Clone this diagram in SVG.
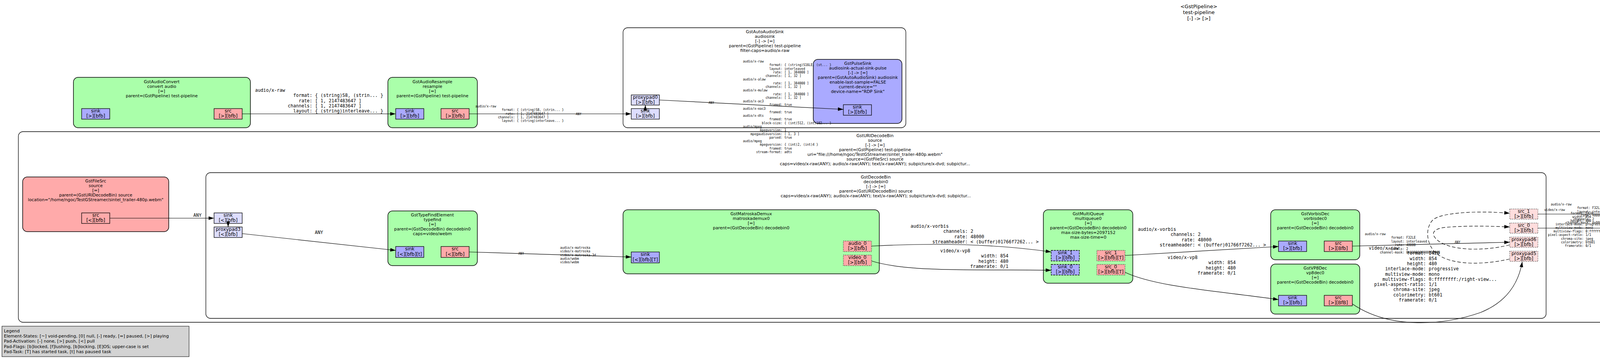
<svg xmlns="http://www.w3.org/2000/svg" width="6139" height="919" viewBox="0 0 6139 919">
<defs>
<marker id="ah" markerWidth="14" markerHeight="10" refX="14" refY="5" orient="auto" markerUnits="userSpaceOnUse"><path d="M0,0.4 L14,5 L0,9.6 z" fill="#000"/></marker>
<style>
.bin{fill:#fff;stroke:#000;stroke-width:1.3}
.el{stroke:#000;stroke-width:1.5}
.f{fill:#aaffaa}.s{fill:#ffaaaa}.k{fill:#aaaaff}
.ps{fill:#ffaaaa;stroke:#000;stroke-width:1.3}
.pk{fill:#aaaaff;stroke:#000;stroke-width:1.3}
.gs{fill:#ffdddd;stroke:#000;stroke-width:1.3}
.gk{fill:#ddddff;stroke:#000;stroke-width:1.3}
.dot{stroke-dasharray:1.5,3}
.dsh{stroke-dasharray:5,2}
.t{font-family:"DejaVu Sans","Liberation Sans",sans-serif;font-size:10.8px;text-anchor:middle;fill:#000}
.ti{font-family:"DejaVu Sans","Liberation Sans",sans-serif;font-size:13px;text-anchor:middle;fill:#000}
.p{font-family:"DejaVu Sans","Liberation Sans",sans-serif;font-size:12px;text-anchor:middle;fill:#000}
.lg{font-family:"DejaVu Sans","Liberation Sans",sans-serif;font-size:11px;fill:#000}
.m{font-family:"DejaVu Sans Mono","Liberation Mono",monospace;font-size:11.6px;fill:#000;white-space:pre}
.sm{font-family:"DejaVu Sans Mono","Liberation Mono",monospace;font-size:8px;fill:#000;white-space:pre}
.c{fill:none;stroke:#000;stroke-width:1.2;marker-end:url(#ah)}
.d{stroke-dasharray:9,5}
</style>
</defs>
<rect width="6139" height="919" fill="#fff"/>
<g id="pipeline-title">
<text class="ti" x="3069" y="20.5">&lt;GstPipeline&gt;</text>
<text class="ti" x="3069" y="36">test-pipeline</text>
<text class="ti" x="3069" y="51.5">[-] -&gt; [&gt;]</text>
</g>

<g id="legend">
<rect x="5" y="835" width="479" height="78" fill="#d3d3d3" stroke="#000" stroke-width="1"/>
<text class="lg" x="10" y="851">Legend</text>
<text class="lg" x="10" y="864">Element-States: [~] void-pending, [0] null, [-] ready, [=] paused, [&gt;] playing</text>
<text class="lg" x="10" y="877">Pad-Activation: [-] none, [&gt;] push, [&lt;] pull</text>
<text class="lg" x="10" y="891">Pad-Flags: [b]locked, [f]lushing, [b]locking, [E]OS; upper-case is set</text>
<text class="lg" x="10" y="904">Pad-Task: [T] has started task, [t] has paused task</text>
</g>

<g id="autoaudiosink">
<rect class="bin" x="1595" y="71" width="724" height="256" rx="12"/>
<text class="t" x="1958" y="85">GstAutoAudioSink</text>
<text class="t" x="1958" y="97">audiosink</text>
<text class="t" x="1958" y="109">[-] -&gt; [=]</text>
<text class="t" x="1958" y="121">parent=(GstPipeline) test-pipeline</text>
<text class="t" x="1958" y="133">filter-caps=audio/x-raw</text>
</g>
<g id="uridecodebin">
<rect class="bin" x="47" y="337" width="4388" height="488" rx="12"/>
<text class="t" x="2240" y="351">GstURIDecodeBin</text>
<text class="t" x="2240" y="363">source</text>
<text class="t" x="2240" y="375">[-] -&gt; [=]</text>
<text class="t" x="2240" y="387">parent=(GstPipeline) test-pipeline</text>
<text class="t" x="2240" y="399">uri="file:///home/ngoc/TestGStreamer/sintel_trailer-480p.webm"</text>
<text class="t" x="2240" y="411">source=(GstFileSrc) source</text>
<text class="t" x="2240" y="423">caps=video/x-raw(ANY); audio/x-raw(ANY); text/x-raw(ANY); subpicture/x-dvd; subpictur...</text>
</g>
<g id="decodebin0">
<rect class="bin" x="527" y="442" width="3431" height="373" rx="12"/>
<text class="t" x="2242" y="457">GstDecodeBin</text>
<text class="t" x="2242" y="469">decodebin0</text>
<text class="t" x="2242" y="481">[-] -&gt; [=]</text>
<text class="t" x="2242" y="493">parent=(GstURIDecodeBin) source</text>
<text class="t" x="2242" y="505">caps=video/x-raw(ANY); audio/x-raw(ANY); text/x-raw(ANY); subpicture/x-dvd; subpictur...</text>
</g>
<g id="autovideosink">
<rect class="bin" x="5410" y="254" width="723" height="257" rx="12"/>
<text class="t" x="5771" y="269">GstAutoVideoSink</text>
<text class="t" x="5771" y="281">videosink</text>
<text class="t" x="5771" y="293">[-] -&gt; [=]</text>
<text class="t" x="5771" y="305">parent=(GstPipeline) test-pipeline</text>
<text class="t" x="5771" y="317">filter-caps=video/x-raw</text>
</g>

<g id="audioconvert">
<rect class="el f" x="188" y="198" width="453" height="129" rx="12"/>
<text class="t" x="414" y="213">GstAudioConvert</text>
<text class="t" x="414" y="225">convert audio</text>
<text class="t" x="414" y="237">[=]</text>
<text class="t" x="414" y="249">parent=(GstPipeline) test-pipeline</text>
<rect class="pk" x="209" y="278" width="72" height="27"/><text class="p" x="245" y="287.5">sink</text><text class="p" x="245" y="301">[&gt;][bfb]</text>
<rect class="ps" x="548" y="278" width="72" height="27"/><text class="p" x="584" y="287.5">src</text><text class="p" x="584" y="301">[&gt;][bfb]</text>
</g>
<g id="audioresample">
<rect class="el f" x="993" y="198" width="229" height="129" rx="12"/>
<text class="t" x="1107" y="213">GstAudioResample</text>
<text class="t" x="1107" y="225">resample</text>
<text class="t" x="1107" y="237">[=]</text>
<text class="t" x="1107" y="249">parent=(GstPipeline) test-pipeline</text>
<rect class="pk" x="1013" y="278" width="72" height="27"/><text class="p" x="1049" y="287.5">sink</text><text class="p" x="1049" y="301">[&gt;][bfb]</text>
<rect class="ps" x="1129" y="278" width="72" height="27"/><text class="p" x="1165" y="287.5">src</text><text class="p" x="1165" y="301">[&gt;][bfb]</text>
</g>
<g id="autoaudiosink-pads">
<rect class="gk" x="1616" y="243" width="72" height="26"/><text class="p" x="1652" y="252.5">proxypad0</text><text class="p" x="1652" y="266">[&gt;][bfb]</text>
<rect class="gk" x="1616" y="278" width="72" height="27"/><text class="p" x="1652" y="287.5">sink</text><text class="p" x="1652" y="301">[&gt;][bfb]</text>
</g>
<g id="pulsesink">
<rect class="el k" x="2082" y="152" width="227" height="164" rx="12"/>
<text class="t" x="2196" y="166">GstPulseSink</text>
<text class="t" x="2196" y="178">audiosink-actual-sink-pulse</text>
<text class="t" x="2196" y="190">[-] -&gt; [=]</text>
<text class="t" x="2196" y="202">parent=(GstAutoAudioSink) audiosink</text>
<text class="t" x="2196" y="214">enable-last-sample=FALSE</text>
<text class="t" x="2196" y="226">current-device=""</text>
<text class="t" x="2196" y="238">device-name="RDP Sink"</text>
<rect class="pk" x="2159" y="268" width="72" height="27"/><text class="p" x="2195" y="277.5">sink</text><text class="p" x="2195" y="291">[&gt;][bfb]</text>
</g>
<g id="filesrc">
<rect class="el s" x="58" y="453" width="374" height="140" rx="12"/>
<text class="t" x="245" y="467">GstFileSrc</text>
<text class="t" x="245" y="479">source</text>
<text class="t" x="245" y="491">[=]</text>
<text class="t" x="245" y="503">parent=(GstURIDecodeBin) source</text>
<text class="t" x="245" y="515">location="/home/ngoc/TestGStreamer/sintel_trailer-480p.webm"</text>
<rect class="ps" x="209" y="545" width="72" height="27"/><text class="p" x="245" y="554.5">src</text><text class="p" x="245" y="568">[&lt;][bfb]</text>
</g>
<g id="decodebin0-sinkpads">
<rect class="gk" x="548" y="545" width="72" height="27"/><text class="p" x="584" y="554.5">sink</text><text class="p" x="584" y="568">[&lt;][bfb]</text>
<rect class="gk" x="548" y="581" width="72" height="27"/><text class="p" x="584" y="590.5">proxypad3</text><text class="p" x="584" y="604">[&lt;][bfb]</text>
</g>
<g id="typefind">
<rect class="el f" x="993" y="540" width="229" height="140" rx="12"/>
<text class="t" x="1107" y="554">GstTypeFindElement</text>
<text class="t" x="1107" y="566">typefind</text>
<text class="t" x="1107" y="578">[=]</text>
<text class="t" x="1107" y="590">parent=(GstDecodeBin) decodebin0</text>
<text class="t" x="1107" y="602">caps=video/webm</text>
<rect class="pk" x="1013" y="631" width="72" height="28"/><text class="p" x="1049" y="641">sink</text><text class="p" x="1049" y="655">[&lt;][bfb][t]</text>
<rect class="ps" x="1129" y="631" width="72" height="28"/><text class="p" x="1165" y="641">src</text><text class="p" x="1165" y="655">[&lt;][bfb]</text>
</g>
<g id="matroskademux0">
<rect class="el f" x="1595" y="537" width="656" height="164" rx="12"/>
<text class="t" x="1923" y="551">GstMatroskaDemux</text>
<text class="t" x="1923" y="563">matroskademux0</text>
<text class="t" x="1923" y="575">[=]</text>
<text class="t" x="1923" y="587">parent=(GstDecodeBin) decodebin0</text>
<rect class="pk" x="1616" y="645" width="72" height="28"/><text class="p" x="1652" y="655">sink</text><text class="p" x="1652" y="669">[&lt;][bfb][T]</text>
<rect class="ps dot" x="2159" y="617" width="72" height="27"/><text class="p" x="2195" y="626.5">audio_0</text><text class="p" x="2195" y="640">[&gt;][bfb]</text>
<rect class="ps dot" x="2159" y="653" width="72" height="27"/><text class="p" x="2195" y="662.5">video_0</text><text class="p" x="2195" y="676">[&gt;][bfb]</text>
</g>
<g id="multiqueue0">
<rect class="el f" x="2671" y="537" width="229" height="188" rx="12"/>
<text class="t" x="2786" y="551">GstMultiQueue</text>
<text class="t" x="2786" y="563">multiqueue0</text>
<text class="t" x="2786" y="575">[=]</text>
<text class="t" x="2786" y="587">parent=(GstDecodeBin) decodebin0</text>
<text class="t" x="2786" y="599">max-size-bytes=2097152</text>
<text class="t" x="2786" y="611">max-size-time=0</text>
<rect class="pk dsh" x="2691" y="641" width="72" height="27"/><text class="p" x="2727" y="650.5">sink_1</text><text class="p" x="2727" y="664">[&gt;][bfb]</text>
<rect class="pk dsh" x="2691" y="677" width="72" height="27"/><text class="p" x="2727" y="686.5">sink_0</text><text class="p" x="2727" y="700">[&gt;][bfb]</text>
<rect class="ps dot" x="2808" y="641" width="72" height="27"/><text class="p" x="2844" y="650.5">src_1</text><text class="p" x="2844" y="664">[&gt;][bfb][T]</text>
<rect class="ps dot" x="2808" y="677" width="72" height="27"/><text class="p" x="2844" y="686.5">src_0</text><text class="p" x="2844" y="700">[&gt;][bfb][T]</text>
</g>
<g id="vorbisdec0">
<rect class="el f" x="3253" y="537" width="228" height="128" rx="12"/>
<text class="t" x="3367" y="551">GstVorbisDec</text>
<text class="t" x="3367" y="563">vorbisdec0</text>
<text class="t" x="3367" y="575">[=]</text>
<text class="t" x="3367" y="587">parent=(GstDecodeBin) decodebin0</text>
<rect class="pk" x="3273" y="617" width="72" height="27"/><text class="p" x="3309" y="626.5">sink</text><text class="p" x="3309" y="640">[&gt;][bfb]</text>
<rect class="ps" x="3390" y="617" width="72" height="27"/><text class="p" x="3426" y="626.5">src</text><text class="p" x="3426" y="640">[&gt;][Bfb]</text>
</g>
<g id="vp8dec0">
<rect class="el f" x="3253" y="676" width="228" height="128" rx="12"/>
<text class="t" x="3367" y="690">GstVP8Dec</text>
<text class="t" x="3367" y="702">vp8dec0</text>
<text class="t" x="3367" y="714">[=]</text>
<text class="t" x="3367" y="726">parent=(GstDecodeBin) decodebin0</text>
<rect class="pk" x="3273" y="756" width="72" height="27"/><text class="p" x="3309" y="765.5">sink</text><text class="p" x="3309" y="779">[&gt;][bfb]</text>
<rect class="ps" x="3390" y="756" width="72" height="27"/><text class="p" x="3426" y="765.5">src</text><text class="p" x="3426" y="779">[&gt;][BfB]</text>
</g>
<g id="decodebin0-srcpads">
<rect class="gs dot" x="3865" y="535" width="72" height="26"/><text class="p" x="3901" y="544.5">src_1</text><text class="p" x="3901" y="558">[&gt;][bfb]</text>
<rect class="gs dot" x="3865" y="571" width="72" height="26"/><text class="p" x="3901" y="580.5">src_0</text><text class="p" x="3901" y="594">[&gt;][bfb]</text>
<rect class="gs dot" x="3865" y="607" width="72" height="26"/><text class="p" x="3901" y="616.5">proxypad6</text><text class="p" x="3901" y="630">[&gt;][bfb]</text>
<rect class="gs dot" x="3865" y="643" width="72" height="26"/><text class="p" x="3901" y="652.5">proxypad5</text><text class="p" x="3901" y="666">[&gt;][bfb]</text>
</g>
<g id="uridecodebin-srcpads">
<rect class="gs dot" x="4342" y="463" width="72" height="26"/><text class="p" x="4378" y="472.5">src_0</text><text class="p" x="4378" y="486">[&gt;][bfb]</text>
<rect class="gs dot" x="4342" y="499" width="72" height="26"/><text class="p" x="4378" y="508.5">src_1</text><text class="p" x="4378" y="522">[&gt;][bfb]</text>
<rect class="gs dot" x="4342" y="535" width="72" height="26"/><text class="p" x="4378" y="544.5">proxypad8</text><text class="p" x="4378" y="558">[&gt;][bfb]</text>
<rect class="gs dot" x="4342" y="571" width="72" height="26"/><text class="p" x="4378" y="580.5">proxypad7</text><text class="p" x="4378" y="594">[&gt;][bfb]</text>
</g>
<g id="videoconvert">
<rect class="el f" x="4808" y="370" width="229" height="141" rx="12"/>
<text class="t" x="4922" y="385">GstVideoConvert</text>
<text class="t" x="4922" y="397">convert video</text>
<text class="t" x="4922" y="409">[=]</text>
<text class="t" x="4922" y="421">parent=(GstPipeline) test-pipeline</text>
<text class="t" x="4922" y="433">qos=TRUE</text>
<rect class="pk" x="4828" y="462" width="72" height="27"/><text class="p" x="4864" y="471.5">sink</text><text class="p" x="4864" y="485">[&gt;][bfb]</text>
<rect class="ps" x="4944" y="462" width="72" height="27"/><text class="p" x="4980" y="471.5">src</text><text class="p" x="4980" y="485">[&gt;][bfb]</text>
</g>
<g id="autovideosink-pads">
<rect class="gk" x="5431" y="426" width="72" height="27"/><text class="p" x="5467" y="435.5">proxypad1</text><text class="p" x="5467" y="449">[&gt;][bfb]</text>
<rect class="gk" x="5431" y="462" width="72" height="27"/><text class="p" x="5467" y="471.5">sink</text><text class="p" x="5467" y="485">[&gt;][bfb]</text>
</g>
<g id="ximagesink">
<rect class="el k" x="5896" y="336" width="227" height="164" rx="12"/>
<text class="t" x="6010" y="350">GstXImageSink</text>
<text class="t" x="6010" y="362">videosink-actual-sink-ximage</text>
<text class="t" x="6010" y="374">[-] -&gt; [=]</text>
<text class="t" x="6010" y="386">parent=(GstAutoVideoSink) videosink</text>
<text class="t" x="6010" y="398">max-lateness=5000000</text>
<text class="t" x="6010" y="410">qos=TRUE</text>
<text class="t" x="6010" y="422">processing-deadline=15000000</text>
<rect class="pk" x="5973" y="451" width="72" height="28"/><text class="p" x="6009" y="461">sink</text><text class="p" x="6009" y="475">[&gt;][bfb]</text>
</g>

<g id="connectors">
<path class="c" d="M620,291.5 L1013,291.5"/>
<path class="c" d="M1201,291.5 L1616,291.5"/>
<path class="c" d="M1652,284 L1652,269"/>
<path class="c" d="M1688,256 L2159,280"/>
<path class="c" d="M281,558.5 L548,558.5"/>
<path class="c" d="M584,566 L584,581"/>
<path class="c" d="M620,598 L1013,641"/>
<path class="c" d="M1201,645 L1616,658"/>
<path class="c" d="M2231,630 C2400,621 2560,626 2691,645"/>
<path class="c" d="M2231,668 C2330,700 2550,688 2691,692"/>
<path class="c" d="M2880,654 L3273,631"/>
<path class="c" d="M2880,697 C2960,735 3120,745 3273,767"/>
<path class="c" d="M3462,630 L3865,620"/>
<path class="c" d="M3462,778 C3560,845 3700,832 3790,800 C3860,772 3888,722 3897,670"/>
<path class="c d" d="M3865,627 C3790,645 3710,640 3680,615 C3660,598 3670,585 3700,582 C3760,577 3820,579 3865,581"/>
<path class="c d" d="M3865,663 C3780,682 3700,676 3670,642 C3650,616 3650,582 3668,563 C3690,543 3790,539 3865,546"/>
<path class="c" d="M3937,548 L4342,548"/>
<path class="c" d="M3937,584 L4342,584"/>
<path class="c" d="M4378,540 L4378,525"/>
<path class="c d" d="M4342,592 C4260,607 4180,600 4150,565 C4120,530 4135,482 4190,465 C4240,451 4300,455 4342,467"/>
<path class="c" d="M4414,476 L4828,476"/>
<path class="c" d="M5016,476 L5431,476"/>
<path class="c" d="M5467,468 L5467,453"/>
<path class="c" d="M5503,441 L5973,464"/>

<text class="m" xml:space="preserve" y="235"><tspan x="653">audio/x-raw</tspan><tspan x="653" dy="13.3">              format: { (string)S8, (strin... }</tspan><tspan x="653" dy="13.3">                rate: [ 1, 2147483647 ]</tspan><tspan x="653" dy="13.3">            channels: [ 1, 2147483647 ]</tspan><tspan x="653" dy="13.3">              layout: { (string)interleave... }</tspan></text>

<text class="sm" xml:space="preserve" y="275"><tspan x="1217">audio/x-raw</tspan><tspan x="1217" dy="9.3">              format: { (string)S8, (strin... }</tspan><tspan x="1217" dy="9.3">                rate: [ 1, 2147483647 ]</tspan><tspan x="1217" dy="9.3">            channels: [ 1, 2147483647 ]</tspan><tspan x="1217" dy="9.3">              layout: { (string)interleave... }</tspan></text>
<text class="sm" x="1474" y="295">ANY</text>

<text class="sm" x="1814" y="266">ANY</text>
<text class="sm" xml:space="preserve" y="160"><tspan x="1902">audio/x-raw</tspan><tspan x="1902" dy="9.28">              format: { (string)S16LE, (st... }</tspan><tspan x="1902" dy="9.28">              layout: interleaved</tspan><tspan x="1902" dy="9.28">                rate: [ 1, 384000 ]</tspan><tspan x="1902" dy="9.28">            channels: [ 1, 32 ]</tspan><tspan x="1902" dy="9.28">audio/x-alaw</tspan><tspan x="1902" dy="9.28">                rate: [ 1, 384000 ]</tspan><tspan x="1902" dy="9.28">            channels: [ 1, 32 ]</tspan><tspan x="1902" dy="9.28">audio/x-mulaw</tspan><tspan x="1902" dy="9.28">                rate: [ 1, 384000 ]</tspan><tspan x="1902" dy="9.28">            channels: [ 1, 32 ]</tspan><tspan x="1902" dy="9.28">audio/x-ac3</tspan><tspan x="1902" dy="9.28">              framed: true</tspan><tspan x="1902" dy="9.28">audio/x-eac3</tspan><tspan x="1902" dy="9.28">              framed: true</tspan><tspan x="1902" dy="9.28">audio/x-dts</tspan><tspan x="1902" dy="9.28">              framed: true</tspan><tspan x="1902" dy="9.28">          block-size: { (int)512, (int)102... }</tspan><tspan x="1902" dy="9.28">audio/mpeg</tspan><tspan x="1902" dy="9.28">         mpegversion: 1</tspan><tspan x="1902" dy="9.28">    mpegaudioversion: [ 1, 3 ]</tspan><tspan x="1902" dy="9.28">              parsed: true</tspan><tspan x="1902" dy="9.28">audio/mpeg</tspan><tspan x="1902" dy="9.28">         mpegversion: { (int)2, (int)4 }</tspan><tspan x="1902" dy="9.28">              framed: true</tspan><tspan x="1902" dy="9.28">       stream-format: adts</tspan></text>

<text class="m" x="495" y="555">ANY</text>
<text class="m" x="806" y="599">ANY</text>

<text class="sm" x="1327" y="652">ANY</text>
<text class="sm" y="637"><tspan x="1434">audio/x-matroska</tspan><tspan x="1434" dy="9.3">video/x-matroska</tspan><tspan x="1434" dy="9.3">video/x-matroska-3d</tspan><tspan x="1434" dy="9.3">audio/webm</tspan><tspan x="1434" dy="9.3">video/webm</tspan></text>

<text class="m" xml:space="preserve" y="583"><tspan x="2331">audio/x-vorbis</tspan><tspan x="2331" dy="13.4">            channels: 2</tspan><tspan x="2331" dy="13.4">                rate: 48000</tspan><tspan x="2331" dy="13.4">        streamheader: &lt; (buffer)01766f7262... &gt;</tspan></text>
<text class="m" xml:space="preserve" y="646"><tspan x="2407">video/x-vp8</tspan><tspan x="2407" dy="13.3">               width: 854</tspan><tspan x="2407" dy="13.3">              height: 480</tspan><tspan x="2407" dy="13.3">           framerate: 0/1</tspan></text>

<text class="m" xml:space="preserve" y="591"><tspan x="2913">audio/x-vorbis</tspan><tspan x="2913" dy="13.4">            channels: 2</tspan><tspan x="2913" dy="13.4">                rate: 48000</tspan><tspan x="2913" dy="13.4">        streamheader: &lt; (buffer)01766f7262... &gt;</tspan></text>
<text class="m" xml:space="preserve" y="663"><tspan x="2989">video/x-vp8</tspan><tspan x="2989" dy="13.4">               width: 854</tspan><tspan x="2989" dy="13.4">              height: 480</tspan><tspan x="2989" dy="13.4">           framerate: 0/1</tspan></text>

<text class="sm" xml:space="preserve" y="602"><tspan x="3494">audio/x-raw</tspan><tspan x="3494" dy="9.4">              format: F32LE</tspan><tspan x="3494" dy="9.4">              layout: interleaved</tspan><tspan x="3494" dy="9.4">                rate: 48000</tspan><tspan x="3494" dy="9.4">            channels: 2</tspan><tspan x="3494" dy="9.4">        channel-mask: 0x0000000000000003</tspan></text>
<text class="sm" x="3724" y="623">ANY</text>

<text class="m" xml:space="preserve" y="639"><tspan x="3504">video/x-raw</tspan><tspan x="3504" dy="13.3">              format: I420</tspan><tspan x="3504" dy="13.3">               width: 854</tspan><tspan x="3504" dy="13.3">              height: 480</tspan><tspan x="3504" dy="13.3">      interlace-mode: progressive</tspan><tspan x="3504" dy="13.3">      multiview-mode: mono</tspan><tspan x="3504" dy="13.3">     multiview-flags: 0:ffffffff:/right-view...</tspan><tspan x="3504" dy="13.3">  pixel-aspect-ratio: 1/1</tspan><tspan x="3504" dy="13.3">         chroma-site: jpeg</tspan><tspan x="3504" dy="13.3">         colorimetry: bt601</tspan><tspan x="3504" dy="13.3">           framerate: 0/1</tspan></text>

<text class="sm" xml:space="preserve" y="526"><tspan x="3970">audio/x-raw</tspan><tspan x="3970" dy="9.4">              format: F32LE</tspan><tspan x="3970" dy="9.4">              layout: interleaved</tspan><tspan x="3970" dy="9.4">                rate: 48000</tspan><tspan x="3970" dy="9.4">            channels: 2</tspan><tspan x="3970" dy="9.4">        channel-mask: 0x0000000000000003</tspan></text>
<text class="sm" xml:space="preserve" y="540"><tspan x="3953">video/x-raw</tspan><tspan x="3953" dy="9.2">              format: I420</tspan><tspan x="3953" dy="9.2">               width: 854</tspan><tspan x="3953" dy="9.2">              height: 480</tspan><tspan x="3953" dy="9.2">      interlace-mode: progressive</tspan><tspan x="3953" dy="9.2">      multiview-mode: mono</tspan><tspan x="3953" dy="9.2">     multiview-flags: 0:ffffffff:/right-view...</tspan><tspan x="3953" dy="9.2">  pixel-aspect-ratio: 1/1</tspan><tspan x="3953" dy="9.2">         chroma-site: jpeg</tspan><tspan x="3953" dy="9.2">         colorimetry: bt601</tspan><tspan x="3953" dy="9.2">           framerate: 0/1</tspan></text>
<text class="sm" x="4200" y="550">ANY</text>
<text class="sm" x="4200" y="587">ANY</text>

<text class="sm" xml:space="preserve" y="431"><tspan x="4429">video/x-raw</tspan><tspan x="4429" dy="9.35">              format: I420</tspan><tspan x="4429" dy="9.35">               width: 854</tspan><tspan x="4429" dy="9.35">              height: 480</tspan><tspan x="4429" dy="9.35">      interlace-mode: progressive</tspan><tspan x="4429" dy="9.35">      multiview-mode: mono</tspan><tspan x="4429" dy="9.35">     multiview-flags: 0:ffffffff:/right-view...</tspan><tspan x="4429" dy="9.35">  pixel-aspect-ratio: 1/1</tspan><tspan x="4429" dy="9.35">         chroma-site: jpeg</tspan><tspan x="4429" dy="9.35">         colorimetry: bt601</tspan><tspan x="4429" dy="9.35">           framerate: 0/1</tspan></text>
<text class="sm" xml:space="preserve" y="436"><tspan x="4576">video/x-raw</tspan><tspan x="4576" dy="9.35">              format: { (string)I420, (str... }</tspan><tspan x="4576" dy="9.35">               width: [ 1, 2147483647 ]</tspan><tspan x="4576" dy="9.35">              height: [ 1, 2147483647 ]</tspan><tspan x="4576" dy="9.35">           framerate: [ 0/1, 2147483647/1 ]</tspan><tspan x="4576" dy="9.35">video/x-raw(ANY)</tspan><tspan x="4576" dy="9.35">              format: { (string)I420, (str... }</tspan><tspan x="4576" dy="9.35">               width: [ 1, 2147483647 ]</tspan><tspan x="4576" dy="9.35">              height: [ 1, 2147483647 ]</tspan><tspan x="4576" dy="9.35">           framerate: [ 0/1, 2147483647/1 ]</tspan></text>

<text class="sm" xml:space="preserve" y="436"><tspan x="5031">video/x-raw</tspan><tspan x="5031" dy="9.35">              format: { (string)I420, (str... }</tspan><tspan x="5031" dy="9.35">               width: [ 1, 2147483647 ]</tspan><tspan x="5031" dy="9.35">              height: [ 1, 2147483647 ]</tspan><tspan x="5031" dy="9.35">           framerate: [ 0/1, 2147483647/1 ]</tspan><tspan x="5031" dy="9.35">video/x-raw(ANY)</tspan><tspan x="5031" dy="9.35">              format: { (string)I420, (str... }</tspan><tspan x="5031" dy="9.35">               width: [ 1, 2147483647 ]</tspan><tspan x="5031" dy="9.35">              height: [ 1, 2147483647 ]</tspan><tspan x="5031" dy="9.35">           framerate: [ 0/1, 2147483647/1 ]</tspan></text>
<text class="sm" x="5289" y="478">ANY</text>

<text class="sm" x="5628" y="450">ANY</text>
<text class="sm" xml:space="preserve" y="445"><tspan x="5732">video/x-raw</tspan><tspan x="5732" dy="9.35">           framerate: [ 0/1, 2147483647/1 ]</tspan><tspan x="5732" dy="9.35">               width: [ 1, 2147483647 ]</tspan><tspan x="5732" dy="9.35">              height: [ 1, 2147483647 ]</tspan></text>
</g>
</svg>
